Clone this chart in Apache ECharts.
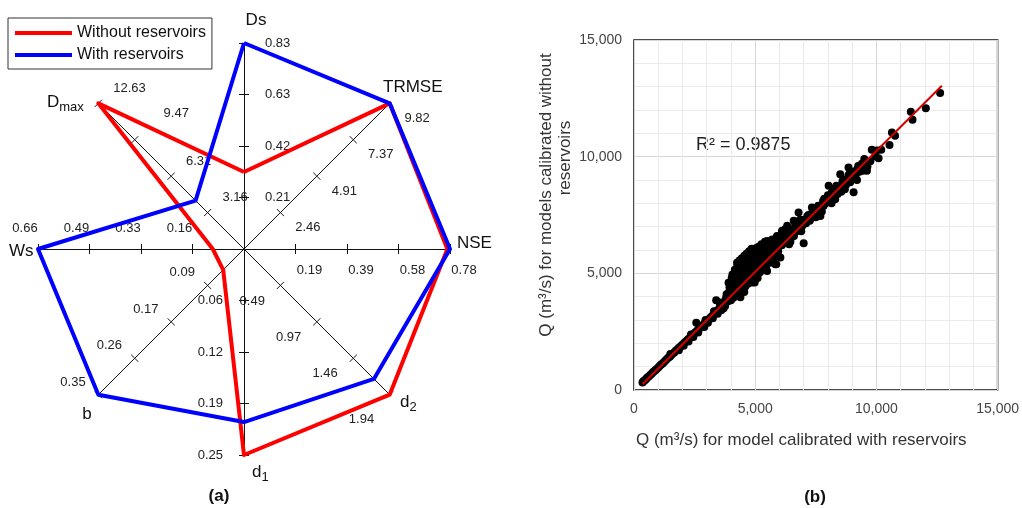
<!DOCTYPE html>
<html><head><meta charset="utf-8">
<script src="https://cdn.jsdelivr.net/npm/echarts@6/dist/echarts.min.js"></script>
<style>html,body{margin:0;padding:0;background:#fff}#c{width:1022px;height:508px}</style>
</head><body><div id="c"></div>
<script>
// ---------- Radar (a) ----------
const radarAxes = ['Ds', 'Dmax', 'Ws', 'b', 'd1', 'd2', 'NSE', 'TRMSE'];
const radarMax = [0.83, 12.63, 0.66, 0.35, 0.25, 1.94, 0.78, 9.82];
const tickDs = ['0.21', '0.42', '0.63', '0.83'];
const tickDmax = ['3.16', '6.31', '9.47', '12.63'];
const tickWs = ['0.16', '0.33', '0.49', '0.66'];
const tickB = ['0.09', '0.17', '0.26', '0.35'];
const tickD1 = ['0.06', '0.12', '0.19', '0.25'];
const tickD2 = ['0.49', '0.97', '1.46', '1.94'];
const tickNSE = ['0.19', '0.39', '0.58', '0.78'];
const tickTRMSE = ['2.46', '4.91', '7.37', '9.82'];
const radarTickLabels = [tickDs, tickDmax, tickWs, tickB, tickD1, tickD2, tickNSE, tickTRMSE];
const withoutReservoirs = [0.31, 12.63, 0.10, 0.05, 0.25, 1.94, 0.77, 9.82];
const withReservoirs = [0.83, 4.2, 0.66, 0.35, 0.21, 1.73, 0.78, 9.82];

// ---------- Scatter (b) ----------
const xTickLabels = ['0', '5,000', '10,000', '15,000'];
const yTickLabels = ['0', '5,000', '10,000', '15,000'];
const r2Text = 'R² = 0.9875';
const trendLine = [[350, 245], [12700, 13040]];
const lowBand = [[350,320],[380,360],[420,400],[460,430],[500,470],[540,520],[580,560],[630,600],[680,650],[730,700],[780,760],[830,800],[880,850],[940,900],[1000,960],[1060,1030],[1120,1090],[1180,1140],[1240,1200],[1300,1260],[1360,1330],[1420,1390],[1480,1430],[1540,1500],[1600,1560],[1660,1610],[1720,1680],[1780,1720],[1840,1800],[1900,1840],[1960,1910],[2020,1960],[2080,2030],[2140,2080],[2200,2140],[2260,2200],[2320,2250],[2380,2330],[2440,2380],[2500,2440],[2560,2500],[2620,2560],[2680,2630],[2740,2680],[2800,2740],[2860,2800],[2920,2870],[2980,2920],[3040,2990],[3100,3040],[3160,3110],[3220,3170],[3280,3240],[3340,3300],[3400,3370],[3460,3420],[3520,3500],[3580,3560],[3640,3620],[1850,1700],[2050,1900],[2250,2080],[2450,2270],[2650,2460],[2900,2700],[3050,2880],[3250,3080],[3450,3270],[3600,3420],[3700,3500],[3750,3640],[1500,1540],[2350,2380],[2950,3000],[3300,3380],[3550,3650],[3650,3760],[2570,2880],[3390,3850]];
const cloud = [[3750,3700],[3780,3850],[3800,3950],[3820,4100],[3760,3600],[3880,3800],[3900,4000],[3920,4200],[3940,4400],[3900,4600],[3960,3900],[4000,3850],[4020,4100],[4010,4350],[4040,4600],[4030,4800],[4060,4950],[4100,3950],[4120,4200],[4110,4450],[4140,4700],[4130,4950],[4160,5150],[4200,4050],[4220,4300],[4210,4550],[4240,4800],[4230,5050],[4260,5300],[4250,5450],[4300,4150],[4320,4400],[4310,4650],[4340,4900],[4330,5150],[4360,5400],[4350,5550],[4400,4250],[4420,4500],[4410,4750],[4440,5000],[4430,5250],[4460,5500],[4450,5650],[4500,4350],[4520,4600],[4510,4850],[4540,5100],[4530,5350],[4560,5600],[4550,5750],[4600,4450],[4620,4700],[4610,4950],[4640,5200],[4630,5450],[4660,5700],[4650,5850],[4700,4550],[4720,4800],[4710,5050],[4740,5300],[4730,5550],[4760,5800],[4750,5950],[4800,4650],[4820,4900],[4810,5150],[4840,5400],[4830,5650],[4860,5900],[4850,6050],[4900,4750],[4920,5000],[4910,5250],[4940,5500],[4930,5750],[4960,6000],[5000,4850],[5020,5100],[5010,5350],[5040,5600],[5030,5850],[5060,6100],[5100,4950],[5120,5200],[5110,5450],[5140,5700],[5130,5950],[5160,6150],[5200,5050],[5220,5300],[5210,5550],[5240,5800],[5230,6050],[5260,6250],[5300,5200],[5320,5450],[5340,5700],[5360,5950],[5380,6200],[5400,6350],[5450,5300],[5480,5550],[5500,5800],[5520,6050],[5550,6300],[5600,5450],[5620,5700],[5650,5950],[5680,6200],[5700,6450],[5750,5600],[5800,5850],[5830,6100],[5860,6400],[5900,6600],[5950,5950],[6000,6200],[6050,6500],[6100,6750],[6150,6300],[6200,6600],[4390,3980],[4870,4610],[4980,4610],[5490,5100],[5870,5390],[7000,6290],[4550,4200],[5100,4800]];
const midRange = [[6110,6820],[6320,7040],[5900,6460],[5490,6390],[5630,6040],[5220,6040],[6040,5680],[5830,5390],[5290,5180],[6590,7250],[6790,7610],[7200,7320],[7340,7820],[7690,7460],[7820,7890],[8030,8750],[8300,8180],[8370,8540],[8510,9250],[8850,9540],[8920,8900],[9060,8470],[9130,9210],[9470,9680],[9610,9400],[6300,6400],[6400,6700],[6500,6550],[6600,6900],[6700,6800],[6800,7100],[6900,6950],[7000,7300],[7100,7150],[7200,7500],[7300,7350],[7400,7700],[7500,7600],[7600,7900],[7700,7750],[7800,8100],[7900,8000],[8000,8350],[8100,8200],[8200,8500],[8300,8650],[8400,8400],[8500,8700],[8600,8950],[8700,8600],[8800,9050],[8900,9300],[9000,9100],[9200,9450],[9300,9350],[9400,9700],[9550,9800],[6450,6350],[6950,7050],[7500,7400],[8150,8000],[8700,8900],[9200,9000]];
const midRangeExtra = [[5300,5650],[5400,5500],[5500,5950],[5600,6150],[5700,5750],[5800,6250],[5900,6050],[6000,6450],[6100,6200],[6200,6350],[6250,6900],[6350,6550],[6400,6250],[6550,6800],[6600,6600],[6650,7050],[6750,6950],[6850,7300],[6900,6800],[7050,7150],[7150,7450],[7250,7250],[7350,7600],[7450,7450],[7550,7800],[7650,7700],[7750,7650],[7850,8200],[7950,8150],[8050,8100],[8150,8450],[8250,8350],[8350,8750],[8450,8600],[8550,8500],[8650,9000],[8750,8800],[8850,9200],[8950,9050],[9050,9350],[9150,9250],[9250,9600],[9350,9500],[9450,9550],[9500,9900],[9650,9750]];
const highRange = [[9440,9400],[9630,9580],[9810,10300],[9950,10010],[10090,9930],[10200,10300],[10540,10500],[10640,11040],[10770,10900],[11420,11930],[11490,11580],[12040,12080],[12630,12730],[10020,10260],[9750,9800]];

const FONT = '"Liberation Sans", Arial, sans-serif';
const INK = '#111';

// label placement for each radar spoke (clockwise side of the spoke)
const labelPlace = [
  { align: 'left', verticalAlign: 'middle' },                          // Ds
  { align: 'left', verticalAlign: 'middle', rich: { o: { fontSize: 13, color: '#222', fontFamily: FONT, padding: [0, 0, 22, 14] } } }, // Dmax
  { align: 'center', verticalAlign: 'middle', padding: [0, 26, 0, 0] }, // Ws
  { align: 'right', verticalAlign: 'middle', margin: -18 },            // b
  { align: 'right', verticalAlign: 'middle', padding: [8, 0, 0, 0] },   // d1
  { align: 'right', verticalAlign: 'middle', margin: -22, rich: { o: { fontSize: 13, color: '#222', fontFamily: FONT, padding: [18, 0, 0, 0] } } }, // d2
  { align: 'center', verticalAlign: 'middle', padding: [0, 0, 0, 28] }, // NSE
  { align: 'left', verticalAlign: 'middle' }                           // TRMSE
];
// labels that sit a little off their tick in the original figure
const offsetLabel = { '9.47': true, '1.94': true };
const indicators = radarAxes.map((n, i) => ({
  name: n, min: 0, max: radarMax[i],
  axisLabel: Object.assign({
    formatter: function (v, idx) {
      if (idx <= 0) return '';
      const t = radarTickLabels[i][idx - 1];
      return (offsetLabel[t] && labelPlace[i].rich) ? '{o|' + t + '}' : t;
    }
  }, labelPlace[i])
}));
const indicatorsPlain = radarAxes.map((n, i) => ({ name: n, min: 0, max: radarMax[i] }));

const radarCommon = {
  center: [244, 249],
  radius: 206,
  startAngle: 90,
  splitNumber: 4,
  shape: 'polygon',
  splitLine: { show: false },
  splitArea: { show: false }
};
function tickFmt(list) {
  return function (v) {
    const idx = Math.round(v / 5000);
    return list[idx] !== undefined ? list[idx] : '';
  };
}
const nameRich = {
  m: { fontSize: 17, color: INK, fontFamily: FONT },
  s: { fontSize: 13, color: INK, fontFamily: FONT, padding: [10, 0, 0, 0] }
};
function axisNameText(text, x, y, align) {
  return { type: 'text', x: x, y: y, silent: true,
    style: { text: text, rich: nameRich, align: align || 'left', verticalAlign: 'middle', fill: INK } };
}

const chart = echarts.init(document.getElementById('c'), null, { renderer: 'canvas' });
chart.setOption({
  animation: false,
  textStyle: { fontFamily: FONT },
  legend: {
    left: 8, top: 18, orient: 'vertical',
    data: ['Without reservoirs', 'With reservoirs'],
    icon: 'rect', itemWidth: 57, itemHeight: 4, itemGap: 6,
    padding: [7, 6, 6, 7],
    borderColor: '#333', borderWidth: 1,
    textStyle: { fontSize: 16, color: INK, fontFamily: FONT }
  },
  radar: [
    Object.assign({}, radarCommon, {
      indicator: indicators,
      axisName: { show: false },
      axisLine: { lineStyle: { color: INK, width: 1 } },
      axisTick: { show: true, length: 5, lineStyle: { color: INK, width: 1 } },
      axisLabel: { show: true, color: '#222', fontSize: 13, fontFamily: FONT, margin: -21 }
    }),
    Object.assign({}, radarCommon, {
      indicator: indicatorsPlain,
      axisName: { show: false },
      axisLine: { show: false },
      axisTick: { show: true, length: -5, lineStyle: { color: INK, width: 1 } },
      axisLabel: { show: false }
    })
  ],
  grid: { left: 634, top: 40, width: 364, height: 350, show: true, borderColor: INK, borderWidth: 1.5, backgroundColor: 'transparent' },
  xAxis: {
    type: 'value', min: 0, max: 15000, interval: 5000,
    axisLine: { show: false }, axisTick: { show: false },
    axisLabel: { formatter: tickFmt(xTickLabels), color: '#444', fontSize: 14, margin: 12, fontFamily: FONT },
    splitLine: { show: true, lineStyle: { color: '#d6d6d6', width: 1 } },
    minorTick: { show: false, splitNumber: 5 },
    minorSplitLine: { show: true, lineStyle: { color: '#ebebeb', width: 1 } },
    name: 'Q (m³/s) for model calibrated with reservoirs', nameLocation: 'middle', nameGap: 42,
    nameTextStyle: { fontSize: 17, color: '#333', fontFamily: FONT, padding: [0, 29, 0, 0] }
  },
  yAxis: {
    type: 'value', min: 0, max: 15000, interval: 5000,
    axisLine: { show: false }, axisTick: { show: false },
    axisLabel: { formatter: tickFmt(yTickLabels), color: '#444', fontSize: 14, margin: 12, fontFamily: FONT },
    splitLine: { show: true, lineStyle: { color: '#d6d6d6', width: 1 } },
    minorTick: { show: false, splitNumber: 5 },
    minorSplitLine: { show: true, lineStyle: { color: '#ebebeb', width: 1 } },
    name: '{a|Q (m³/s) for models calibrated without}\n{b|reservoirs}', nameLocation: 'middle', nameGap: 22, nameRotate: 90,
    nameTextStyle: {
      fontSize: 17, color: '#333', fontFamily: FONT, lineHeight: 19,
      rich: {
        a: { fontSize: 17, color: '#333', fontFamily: FONT, lineHeight: 19, padding: [0, 0, 0, 40] },
        b: { fontSize: 17, color: '#333', fontFamily: FONT, lineHeight: 19, padding: [0, 0, 0, 114] }
      }
    }
  },
  graphic: [
    axisNameText('{m|Ds}', 256, 20, 'center'),
    axisNameText('{m|TRMSE}', 383, 87, 'left'),
    axisNameText('{m|NSE}', 457, 243, 'left'),
    axisNameText('{m|d}{s|2}', 400, 402, 'left'),
    axisNameText('{m|d}{s|1}', 252, 472, 'left'),
    axisNameText('{m|b}', 87, 414, 'center'),
    axisNameText('{m|Ws}', 9, 251, 'left'),
    axisNameText('{m|D}{s|max}', 47, 102, 'left'),
    { type: 'text', x: 696, y: 145, silent: true, style: { text: r2Text, fill: '#222', font: '18px ' + FONT, align: 'left', verticalAlign: 'middle' } },
    { type: 'text', x: 219, y: 496, silent: true, style: { text: '(a)', fill: INK, font: 'bold 17px ' + FONT, align: 'center', verticalAlign: 'middle' } },
    { type: 'text', x: 815, y: 497, silent: true, style: { text: '(b)', fill: INK, font: 'bold 17px ' + FONT, align: 'center', verticalAlign: 'middle' } }
  ],
  series: [
    {
      type: 'radar', radarIndex: 0, symbol: 'none',
      data: [
        { name: 'Without reservoirs', value: withoutReservoirs, itemStyle: { color: '#ff0000' }, lineStyle: { color: '#ff0000', width: 4 } },
        { name: 'With reservoirs', value: withReservoirs, itemStyle: { color: '#0000ff' }, lineStyle: { color: '#0000ff', width: 4 } }
      ]
    },
    {
      type: 'scatter', xAxisIndex: 0, yAxisIndex: 0, symbolSize: 8,
      itemStyle: { color: '#000', opacity: 1 },
      data: lowBand.concat(cloud, midRange, midRangeExtra, highRange)
    },
    {
      type: 'line', xAxisIndex: 0, yAxisIndex: 0, symbol: 'none', z: 5,
      lineStyle: { color: '#d00000', width: 2 },
      data: trendLine
    }
  ]
});
</script></body></html>
